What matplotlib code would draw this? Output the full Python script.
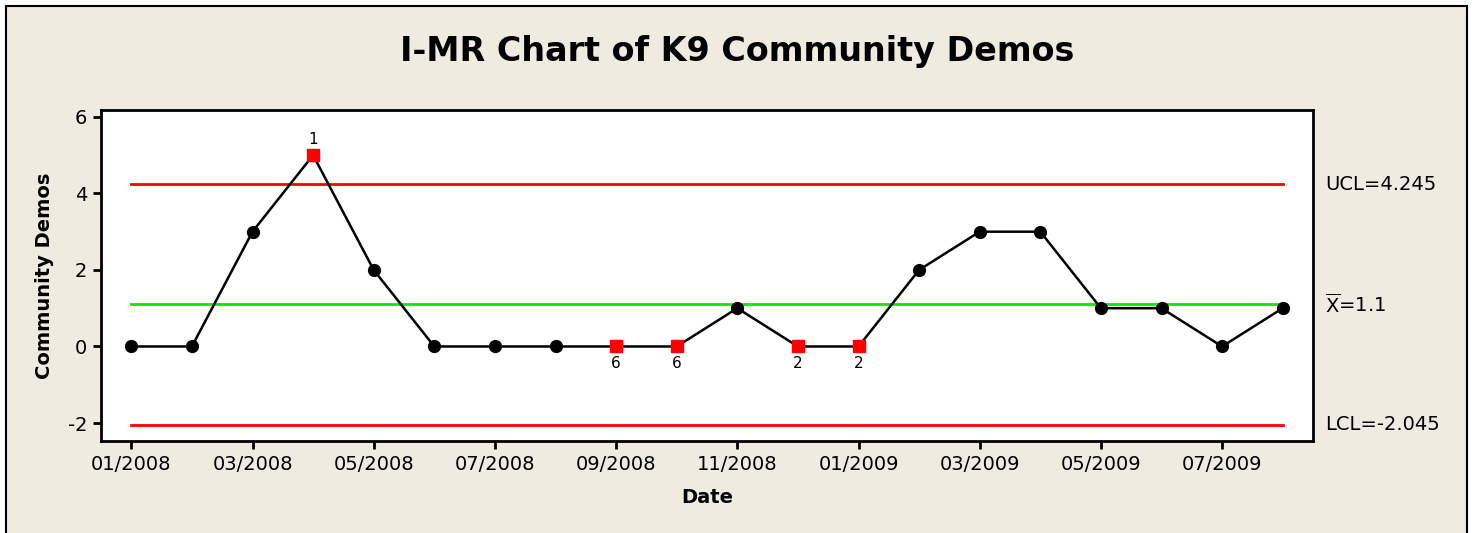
import matplotlib
matplotlib.use("Agg")
import matplotlib.pyplot as plt
from matplotlib.patches import Rectangle

# ---- data ----
tick_labels = ["01/2008", "03/2008", "05/2008", "07/2008", "09/2008",
               "11/2008", "01/2009", "03/2009", "05/2009", "07/2009"]
values = [0, 0, 3, 5, 2, 0, 0, 0, 0, 0, 1, 0, 0, 2, 3, 3, 1, 1, 0, 1]
ucl = 4.245
center = 1.1
lcl = -2.045
flag_idx = [3, 8, 9, 11, 12]
flag_txt = ["1", "6", "6", "2", "2"]
flag_above = [True, False, False, False, False]

plt.rcParams['font.family'] = ['DejaVu Sans']
plt.rcParams['axes.unicode_minus'] = False

W, H = 1475, 533
fig = plt.figure(figsize=(W / 100, H / 100), dpi=100, facecolor="white")
bg = "#EFEBE1"
fig.patches.append(Rectangle((6 / W, -0.1), (1467 - 6) / W, (H - 6) / H + 0.1,
                             transform=fig.transFigure, facecolor=bg,
                             edgecolor="black", linewidth=1.5, zorder=-10))

ax = fig.add_axes([101 / W, 1 - 441 / H, (1313 - 101) / W, (441 - 110) / H])
ax.set_zorder(5)
ax.set_facecolor("white")
x = list(range(len(values)))
n = len(values)

ax.plot([0, n - 1], [ucl, ucl], color="#FF0000", lw=2, zorder=2)
ax.plot([0, n - 1], [lcl, lcl], color="#FF0000", lw=2, zorder=2)
ax.plot([0, n - 1], [center, center], color="#00EE00", lw=2, zorder=2)

ax.plot(x, values, color="black", lw=1.8, marker="o", markersize=8.5,
        markerfacecolor="black", markeredgecolor="black", zorder=3)
ax.plot([x[i] for i in flag_idx], [values[i] for i in flag_idx], linestyle="none",
        marker="s", markersize=8.5, color="#FF0000", zorder=4)
for i, t, up in zip(flag_idx, flag_txt, flag_above):
    if up:
        ax.annotate(t, (x[i], values[i]), xytext=(0, 6), textcoords="offset points",
                    ha="center", va="bottom", fontsize=11)
    else:
        ax.annotate(t, (x[i], values[i]), xytext=(0, -7), textcoords="offset points",
                    ha="center", va="top", fontsize=11)

ax.set_xlim(-0.5, n - 0.5)
ax.set_ylim(-2.47, 6.18)
ax.set_yticks([-2, 0, 2, 4, 6])
ax.set_xticks(list(range(0, n, 2)))
ax.set_xticklabels(tick_labels)
ax.tick_params(direction="out", length=6, width=2, labelsize=14, pad=4)
for s in ax.spines.values():
    s.set_linewidth(2)

ax.set_xlabel("Date", fontsize=14, fontweight="bold", labelpad=10)
ax.set_ylabel("Community Demos", fontsize=14, fontweight="bold", labelpad=10)

fig.text(0.5, 1 - 52 / H, "I-MR Chart of K9 Community Demos", ha="center", va="center",
         fontsize=24, fontweight="bold")

ax.text(1.01, ucl, "UCL=4.245", transform=ax.get_yaxis_transform(), fontsize=14, va="center")
ax.text(1.01, center, r"$\mathregular{\overline{X}}$=1.1", transform=ax.get_yaxis_transform(),
        fontsize=14, va="center")
ax.text(1.01, lcl, "LCL=-2.045", transform=ax.get_yaxis_transform(), fontsize=14, va="center")

fig.savefig("out.png", dpi=100, facecolor="white")
